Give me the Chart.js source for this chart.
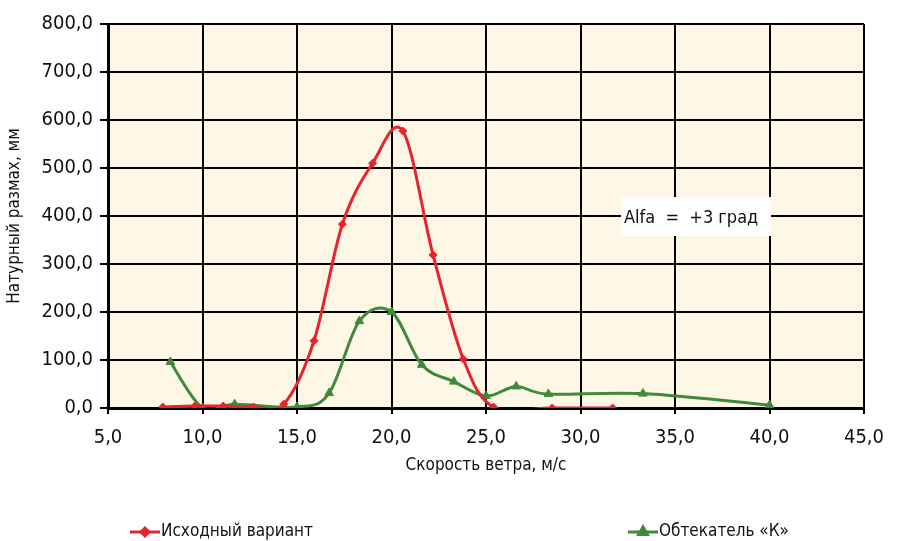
<!DOCTYPE html>
<html>
<head>
<meta charset="utf-8">
<script src="https://cdn.jsdelivr.net/npm/chart.js"></script>
<style>
  html, body { margin: 0; padding: 0; background: #fff; }
  #wrap { width: 904px; height: 541px; position: relative; }
</style>
</head>
<body>
<div id="wrap"><canvas id="myChart"></canvas></div>
<script>
// данные
var xTicks = [5, 10, 15, 20, 25, 30, 35, 40, 45];
var yTicks = [0, 100, 200, 300, 400, 500, 600, 700, 800];

var baseName = 'Исходный вариант';
var baseX = [7.9, 9.6, 11.1, 12.7, 14.3, 15.9, 17.4, 19.0, 20.6, 22.2, 23.8, 25.4, 28.5, 31.7];
var baseY = [2, 4, 4, 2, 8, 140, 383, 510, 577, 319, 102, 2, 0, 0];

var fairName = 'Обтекатель «К»';
var fairX = [8.3, 10.0, 11.7, 15.0, 16.7, 18.3, 20.0, 21.6, 23.3, 25.0, 26.6, 28.3, 33.3, 40.0];
var fairY = [96, 0, 8, 2, 31, 181, 200, 90, 55, 25, 45, 29, 30, 6];

var noteText = 'Alfa  =  +3 град';

var FONT = "'Liberation Sans Narrow', 'DejaVu Sans Condensed', 'Roboto', sans-serif";
var RED = '#e8232d';
var GREEN = '#3f8a3c';

function toPoints(xs, ys) {
  return xs.map(function (x, i) { return { x: x, y: ys[i] }; });
}

function fmt(v) {
  return v.toFixed(1).replace('.', ',');
}

// сглаживание как в Excel (Catmull-Rom, 1/6)
var smooth = {
  id: 'smooth',
  beforeDatasetDraw: function (chart, args) {
    var meta = args.meta, pts = meta.data, n = pts.length;
    for (var i = 0; i < n; i++) {
      var a = pts[Math.max(i - 1, 0)], b = pts[Math.min(i + 1, n - 1)], p = pts[i];
      var tx = (b.x - a.x) / 6, ty = (b.y - a.y) / 6;
      p.cp1x = p.x - tx; p.cp1y = p.y - ty;
      p.cp2x = p.x + tx; p.cp2y = p.y + ty;
    }
    meta.dataset._pointsUpdated = true;
    meta.dataset._path = undefined;
  }
};

// фон области графика, подпись и легенда
var extras = {
  id: 'extras',
  beforeDraw: function (chart) {
    var a = chart.chartArea, ctx = chart.ctx;
    ctx.save();
    ctx.fillStyle = '#fff7e6';
    ctx.fillRect(a.left, a.top, a.right - a.left, a.bottom - a.top);
    ctx.restore();
  },
  afterDraw: function (chart) {
    var ctx = chart.ctx;
    ctx.save();
    // подпись Alfa
    ctx.fillStyle = '#ffffff';
    ctx.fillRect(621, 197, 150, 39);
    ctx.fillStyle = '#111';
    ctx.font = "18px " + FONT;
    ctx.textBaseline = 'middle';
    ctx.fillText(noteText, 624, 218);

    // легенда
    var items = [
      { x: 130, name: baseName, color: RED, style: 'rectRot', r: 4 },
      { x: 628, name: fairName, color: GREEN, style: 'triangle', r: 5 }
    ];
    var ly = 532;
    items.forEach(function (it) {
      ctx.strokeStyle = it.color;
      ctx.lineWidth = 3;
      ctx.beginPath();
      ctx.moveTo(it.x, ly);
      ctx.lineTo(it.x + 30, ly);
      ctx.stroke();
      ctx.fillStyle = it.color;
      Chart.helpers.drawPoint(ctx, { pointStyle: it.style, radius: it.r, borderWidth: 1 }, it.x + 15, ly);
      ctx.fillStyle = '#111';
      ctx.font = "17px " + FONT;
      ctx.fillText(it.name, it.x + 31, ly);
    });
    ctx.restore();
  }
};

var ctx = document.getElementById('myChart').getContext('2d');
var myChart = new Chart(ctx, {
  type: 'line',
  data: {
    datasets: [
      {
        label: baseName,
        data: toPoints(baseX, baseY),
        borderColor: RED,
        backgroundColor: RED,
        borderWidth: 3,
        pointStyle: 'rectRot',
        pointRadius: 4,
        pointBorderWidth: 1,
        tension: 0.4,
        fill: false
      },
      {
        label: fairName,
        data: toPoints(fairX, fairY),
        borderColor: GREEN,
        backgroundColor: GREEN,
        borderWidth: 3,
        pointStyle: 'triangle',
        pointRadius: 5,
        pointBorderWidth: 1,
        tension: 0.4,
        fill: false
      }
    ]
  },
  options: {
    responsive: true,
    maintainAspectRatio: false,
    animation: false,
    layout: { padding: { top: 24, right: 40, bottom: 0, left: 0 } },
    plugins: {
      legend: { display: false },
      tooltip: { enabled: false }
    },
    elements: { line: { capBezierPoints: false } },
    scales: {
      x: {
        type: 'linear',
        min: 5,
        max: 45,
        afterBuildTicks: function (s) { s.ticks = xTicks.map(function (v) { return { value: v }; }); },
        afterFit: function (s) { s.height = 133; },
        grid: { color: '#000', lineWidth: 2, tickLength: 6, drawTicks: true },
        border: { color: '#000', width: 3 },
        ticks: {
          color: '#111',
          padding: 12,
          maxRotation: 0,
          font: { family: FONT, size: 20 },
          callback: function (v) { return fmt(v); }
        },
        title: {
          display: true,
          text: 'Скорость ветра, м/с',
          color: '#111',
          font: { family: FONT, size: 17 },
          padding: { top: 0, bottom: 65 }
        }
      },
      y: {
        min: 0,
        max: 800,
        afterBuildTicks: function (s) { s.ticks = yTicks.map(function (v) { return { value: v }; }); },
        afterFit: function (s) { s.width = 108; },
        grid: { color: '#000', lineWidth: 2, tickLength: 8 },
        border: { color: '#000', width: 3 },
        ticks: {
          color: '#111',
          padding: 7,
          font: { family: FONT, size: 20 },
          callback: function (v) { return fmt(v); }
        },
        title: {
          display: true,
          text: 'Натурный размах, мм',
          color: '#111',
          font: { family: FONT, size: 17 },
          padding: { top: 4, bottom: 0 }
        }
      }
    }
  },
  plugins: [smooth, extras]
});
</script>
</body>
</html>
